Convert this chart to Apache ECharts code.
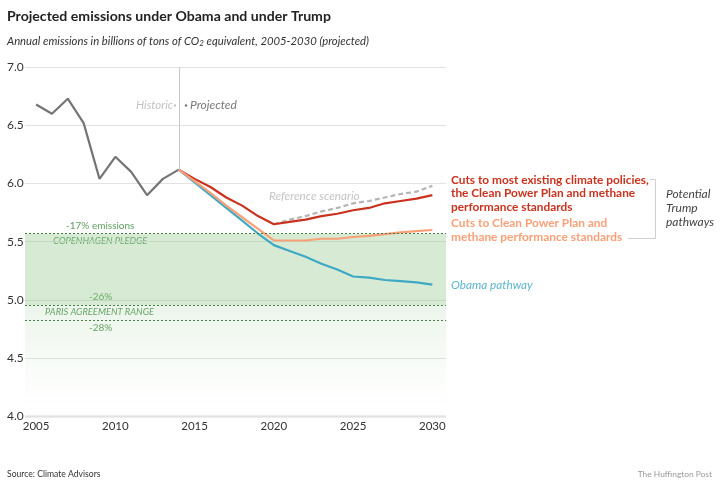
<!DOCTYPE html>
<html>
<head>
<meta charset="utf-8">
<style>html,body{margin:0;padding:0;background:#fff}#main{width:720px;height:488px}</style>
<script src="https://cdn.jsdelivr.net/npm/echarts@6/dist/echarts.min.js"></script>
</head>
<body>
<div id="main"></div>
<script>
var FONT = 'Lato';

var yearTicks = [2005, 2010, 2015, 2020, 2025, 2030];
var histYears = [2005, 2006, 2007, 2008, 2009, 2010, 2011, 2012, 2013, 2014];
var histValues = [6.68, 6.60, 6.73, 6.52, 6.04, 6.23, 6.10, 5.90, 6.04, 6.12];

var projYears = [2014, 2015, 2016, 2017, 2018, 2019, 2020, 2021, 2022, 2023, 2024, 2025, 2026, 2027, 2028, 2029, 2030];
var redValues = [6.12, 6.04, 5.97, 5.88, 5.81, 5.72, 5.65, 5.67, 5.69, 5.72, 5.74, 5.77, 5.79, 5.83, 5.85, 5.87, 5.90];
var orangeValues = [6.12, 6.02, 5.92, 5.81, 5.71, 5.61, 5.51, 5.51, 5.51, 5.525, 5.525, 5.54, 5.55, 5.565, 5.58, 5.59, 5.60];
var blueValues = [6.12, 6.01, 5.90, 5.79, 5.68, 5.57, 5.47, 5.42, 5.37, 5.31, 5.26, 5.20, 5.19, 5.17, 5.16, 5.15, 5.13];

var refYears = [2020, 2021, 2022, 2023, 2024, 2025, 2026, 2027, 2028, 2029, 2030];
var refValues = [5.65, 5.69, 5.72, 5.76, 5.79, 5.83, 5.85, 5.88, 5.91, 5.93, 5.98];

var copenhagen = 5.57;
var parisHigh = 4.95;
var parisLow = 4.82;
var axisFloor = 4.0;
var axisTop = 7.0;
var splitYear = 2014;

function pairs(xs, ys) {
	return xs.map(function (x, i) { return [x, ys[i]]; });
}

function lineSeries(name, xs, ys, color, width, dashed) {
	return {
		name: name,
		type: 'line',
		data: pairs(xs, ys),
		symbol: 'none',
		silent: true,
		lineStyle: { color: color, width: width, type: dashed ? [5, 3] : 'solid' }
	};
}

function txt(x, y, text, fill, size, extra) {
	var style = { x: x, y: y, text: text, fill: fill, fontSize: size, fontFamily: FONT, textVerticalAlign: 'middle' };
	for (var k in extra) { style[k] = extra[k]; }
	return { type: 'text', silent: true, style: style };
}

var GREEN = '#5e9e5e';
var dash = { color: '#4b7d4b', width: 1, type: [2, 2] };

var chart = echarts.init(document.getElementById('main'), null, { renderer: 'canvas' });

// 背景带 + 虚线 都挂在一个空 series 上
var bandSeries = {
	name: 'bands',
	type: 'line',
	data: [],
	silent: true,
	markArea: {
		silent: true,
		itemStyle: { color: 'rgba(138,195,132,0.35)' },
		data: [
			[{ xAxis: 'min', yAxis: copenhagen }, { xAxis: 'max', yAxis: parisHigh }],
			[{
				xAxis: 'min', yAxis: parisHigh,
				itemStyle: {
					color: {
						type: 'linear', x: 0, y: 0, x2: 0, y2: 1,
						colorStops: [
							{ offset: 0, color: 'rgba(138,195,132,0.16)' },
							{ offset: 0.88, color: 'rgba(138,195,132,0)' }
						]
					}
				}
			}, { xAxis: 'max', yAxis: axisFloor }]
		]
	},
	markLine: {
		silent: true,
		symbol: 'none',
		label: { show: false },
		lineStyle: dash,
		data: [
			{ yAxis: copenhagen },
			{ yAxis: parisHigh },
			{ yAxis: parisLow },
			[
				{ coord: [splitYear, axisTop], lineStyle: { color: '#c8c8c8', width: 1, type: 'solid' } },
				{ coord: [splitYear, histValues[histValues.length - 1]] }
			]
		]
	}
};

chart.setOption({
	animation: false,
	textStyle: { fontFamily: FONT },
	grid: { left: 25, right: 274, top: 67.3, height: 348.7 },
	xAxis: {
		type: 'value',
		min: 2004.3,
		max: 2030.86,
		splitLine: { show: false },
		axisTick: { show: false },
		axisLine: { show: false },
		axisLabel: { customValues: yearTicks, color: '#333', fontSize: 11.5, margin: 4, formatter: function (v) { return String(v); } }
	},
	yAxis: {
		type: 'value',
		min: 4,
		max: 7,
		interval: 0.5,
		axisLine: { show: false },
		axisTick: { show: false },
		splitLine: { lineStyle: { color: '#e2e2e2', width: 1 } },
		axisLabel: {
			color: '#333', fontSize: 12, align: 'left', margin: 18, padding: [0, 0, 8, 0],
			formatter: function (v) { return v.toFixed(1); }
		}
	},
	series: [
		bandSeries,
		lineSeries('Historic', histYears, histValues, '#757575', 2.2),
		lineSeries('Reference scenario', refYears, refValues, '#b5b5b5', 2.2, true),
		lineSeries('Red pathway', projYears, redValues, '#c8321e', 2.2),
		lineSeries('Obama pathway', projYears, blueValues, '#3fa9c4', 2.2),
		lineSeries('Orange pathway', projYears, orangeValues, '#f9a078', 2.2)
	],
	graphic: [
		// 底部轴线
		{ type: 'line', silent: true, shape: { x1: 25, y1: 416.5, x2: 446, y2: 416.5 }, style: { stroke: '#dcdcdc', lineWidth: 2 } },
		// 右侧括号
		{ type: 'polyline', silent: true, shape: { points: [[650, 179.5], [655.5, 179.5], [655.5, 238.5], [628, 238.5]] }, style: { stroke: '#cfcfcf', fill: null, lineWidth: 1 } },

		txt(7, 16, 'Projected emissions under Obama and under Trump', '#222', 14.1, { fontWeight: 'bold' }),
		{
			type: 'text', silent: true,
			style: {
				x: 7, y: 41, fontFamily: FONT, textVerticalAlign: 'middle',
				text: '{a|Annual emissions in billions of tons of CO}{s|2}{a| equivalent, 2005-2030 (projected)}',
				rich: {
					a: { fontFamily: FONT, fontSize: 11.3, fontStyle: 'italic', fill: '#333' },
					s: { fontFamily: FONT, fontSize: 8, fontStyle: 'italic', fill: '#333', verticalAlign: 'bottom', padding: [5, 0, 0, 0] }
				}
			}
		},

		txt(136, 105.5, 'Historic', '#c4c4c4', 11.5, { fontStyle: 'italic' }),
		txt(190, 105.5, 'Projected', '#777', 12, { fontStyle: 'italic' }),
		{ type: 'circle', silent: true, shape: { cx: 175, cy: 105.5, r: 1.2 }, style: { fill: '#c4c4c4' } },
		{ type: 'circle', silent: true, shape: { cx: 186, cy: 105.5, r: 1.2 }, style: { fill: '#777' } },
		txt(269, 196, 'Reference scenario', '#c4c4c4', 11.7, { fontStyle: 'italic' }),

		txt(66, 226, '-17% emissions', GREEN, 10),
		txt(53, 241, 'COPENHAGEN PLEDGE', GREEN, 9.3, { fontStyle: 'italic' }),
		txt(89, 297, '-26%', GREEN, 10),
		txt(45, 312, 'PARIS AGREEMENT RANGE', GREEN, 9.3, { fontStyle: 'italic' }),
		txt(89, 328, '-28%', GREEN, 10),

		txt(451, 180, 'Cuts to most existing climate policies,', '#c8321e', 11.85, { fontWeight: 'bold' }),
		txt(451, 193.5, 'the Clean Power Plan and methane', '#c8321e', 11.85, { fontWeight: 'bold' }),
		txt(451, 207, 'performance standards', '#c8321e', 11.85, { fontWeight: 'bold' }),
		txt(451, 223.5, 'Cuts to Clean Power Plan and', '#f9a078', 11.9, { fontWeight: 'bold' }),
		txt(451, 237, 'methane performance standards', '#f9a078', 11.9, { fontWeight: 'bold' }),
		txt(451, 285.5, 'Obama pathway', '#5fb5cd', 11.8, { fontStyle: 'italic' }),

		txt(666, 194, 'Potential', '#444', 12, { fontStyle: 'italic' }),
		txt(666, 208, 'Trump', '#444', 12, { fontStyle: 'italic' }),
		txt(666, 222, 'pathways', '#444', 12, { fontStyle: 'italic' }),

		txt(7, 474.5, 'Source: Climate Advisors', '#333', 8.6),
		txt(712, 474.5, 'The Huffington Post', '#999', 8.4, { textAlign: 'right' })
	]
});
</script>
</body>
</html>
